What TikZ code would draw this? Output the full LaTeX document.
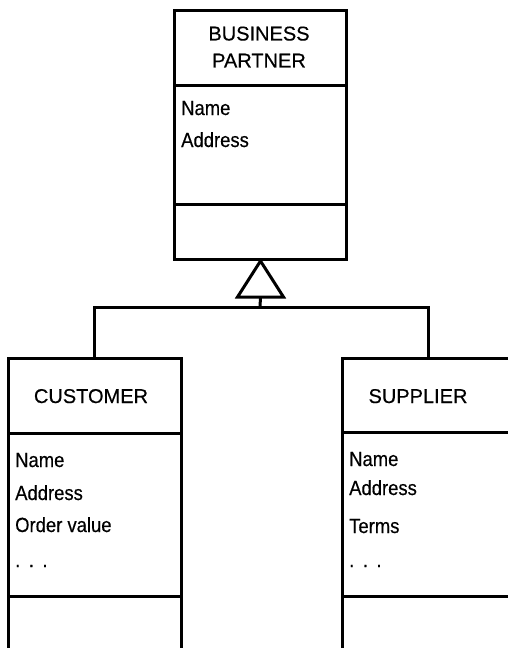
\documentclass[tikz,border=0pt]{standalone}
\usepackage{fontspec}
\setmainfont{Liberation Sans}
\newfontfamily\headfont[FakeBold=0.4]{Liberation Sans}
\newfontfamily\attrfont[FakeStretch=0.9,FakeBold=0.4]{Liberation Sans}
\begin{document}
\begin{tikzpicture}[x=1pt,y=-1pt,
  cls/.style={draw, line width=3pt, anchor=north west, inner sep=0pt},
  rule/.style={line width=3pt},
  conn/.style={line width=3pt},
  head/.style={font=\headfont\fontsize{20}{27}\selectfont, inner sep=0pt, align=center},
  attr/.style={font=\attrfont\fontsize{20.5}{27}\selectfont, inner sep=0pt, anchor=base west},
]
\clip (0,0) rectangle (508,648);

% class boxes
\node[cls, minimum width=172pt, minimum height=249pt] (bp) at (173,9) {};
\node[cls, minimum width=173pt, minimum height=310pt] (cust) at (7,357) {};
\node[cls, minimum width=175pt, minimum height=310pt] (sup) at (341,357) {};

% compartment rules
\draw[rule] (173,85) -- (345,85);
\draw[rule] (173,204) -- (345,204);
\draw[rule] (7,433) -- (180,433);
\draw[rule] (7,596) -- (180,596);
\draw[rule] (341,432) -- (516,432);
\draw[rule] (341,596) -- (516,596);

% class names
\node[head, anchor=center] (bpname) at (259,47) {BUSINESS\\PARTNER};
\node[head, anchor=base] (custname) at (91,403) {CUSTOMER};
\node[head, anchor=base] (supname) at (418,403) {SUPPLIER};

% attributes
\node[attr] (bpa1) at (181,115) {Name};
\node[attr] (bpa2) at (181,147) {Address};

\node[attr] (ca1) at (15,467) {Name};
\node[attr] (ca2) at (15,500) {Address};
\node[attr] (ca3) at (15,532) {Order value};
\node[attr] (ca4) at (15,567) {.\hspace{8.5pt}.\hspace{8.5pt}.};

\node[attr] (sa1) at (349,466) {Name};
\node[attr] (sa2) at (349,495) {Address};
\node[attr] (sa3) at (349,533) {Terms};
\node[attr] (sa4) at (349,567) {.\hspace{8.5pt}.\hspace{8.5pt}.};

% generalization
\coordinate (j) at (260,307);
\draw[conn, fill=white, line join=miter] (bp.south) -- ++(23,36) -- ++(-46,0) -- cycle;
\draw[conn] ([yshift=-36pt]bp.south) -- (j);
\draw[conn] ([xshift=87pt]cust.north west) |- (j) -| ([xshift=87pt]sup.north west);
\end{tikzpicture}
\end{document}
